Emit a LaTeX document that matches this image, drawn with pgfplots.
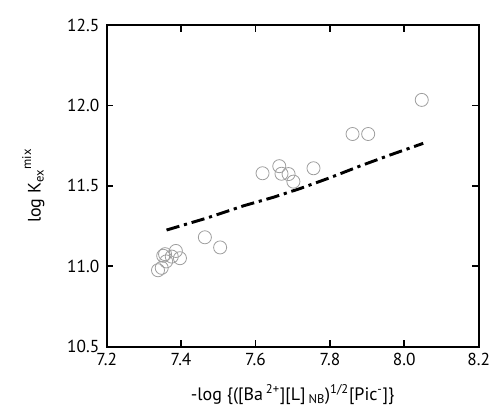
\documentclass[border=0pt]{standalone}
\usepackage{fontspec}
\setmainfont{PT Sans}
\usepackage{pgfplots}
\pgfplotsset{compat=1.18}

\definecolor{markgray}{gray}{0.62}

\begin{document}
\begin{tikzpicture}
\useasboundingbox (-80pt,-54.2pt) rectangle (295pt,260pt);
\begin{axis}[
  at={(0,0)}, anchor=south west,
  scale only axis,
  width=279pt, height=241.3pt,
  xmin=7.2, xmax=8.2,
  ymin=10.5, ymax=12.5,
  xtick={7.2,7.4,...,8.2},
  ytick={10.5,11.0,...,12.5},
  tick align=inside,
  major tick length=5pt,
  axis line style={line width=1.6pt},
  every tick/.style={black, line width=1.3pt},
  tick label style={font=\fontsize{13}{15}\selectfont},
  xticklabel style={yshift=-1pt},
  yticklabel style={xshift=-2pt},
  /pgf/number format/assume math mode=true,
  /pgf/number format/.cd, fixed, fixed zerofill, precision=1, /pgfplots/.cd,
  xlabel={-log \{([Ba\,\textsuperscript{2+}][L]\,\textsubscript{NB})\textsuperscript{1/2}[Pic\textsuperscript{-}]\}},
  ylabel={log K\textsubscript{ex}\textsuperscript{\raisebox{0.4ex}{mix}}},
  label style={font=\fontsize{13.5}{15}\selectfont},
  xlabel style={at={(axis description cs:0.5,-0.15)}, anchor=center},
  ylabel style={at={(axis description cs:-0.197,0.5)}, anchor=center},
]
  % measured points
  \addplot[only marks, mark=o, mark size=4.9pt, markgray,
           mark options={line width=0.6pt}]
    coordinates {
      (7.338,10.975) (7.348,10.990) (7.352,11.065) (7.357,11.075)
      (7.360,11.030) (7.375,11.060) (7.386,11.095) (7.397,11.050)
      (7.464,11.180) (7.505,11.117)
      (7.619,11.578) (7.664,11.622) (7.670,11.575) (7.689,11.573)
      (7.702,11.526) (7.756,11.609)
      (7.861,11.822) (7.903,11.822) (8.047,12.034)
    };
  % calculated line
  \addplot[black, line width=2.2pt, line cap=butt,
           dash pattern=on 10pt off 3.6pt on 2.4pt off 3.6pt]
    coordinates {
      (7.361,11.225) (7.470,11.300) (7.567,11.375) (7.650,11.430)
      (7.720,11.483) (7.800,11.550) (7.881,11.623) (7.960,11.690) (8.051,11.764)
    };
\end{axis}
\end{tikzpicture}
\end{document}
